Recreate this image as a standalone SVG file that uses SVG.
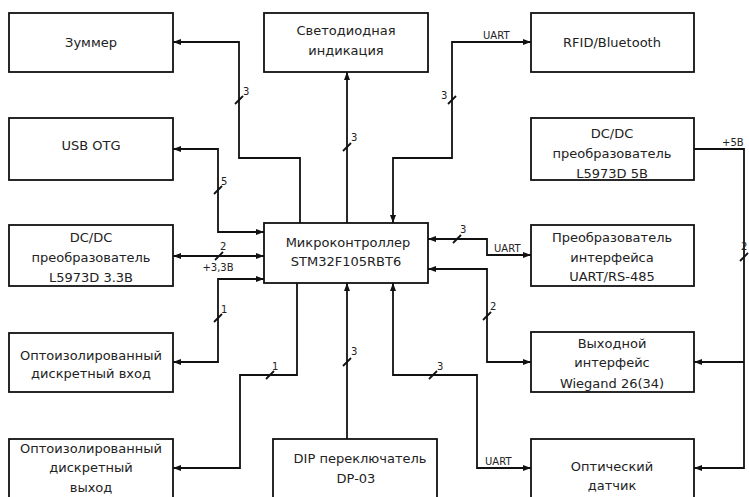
<svg xmlns="http://www.w3.org/2000/svg" width="749" height="497" viewBox="0 0 749 497">
<style>
.box{fill:#fff;stroke:#111;stroke-width:1.8}
.t{font-family:"DejaVu Sans","Liberation Sans",sans-serif;font-size:13px;fill:#222;text-anchor:middle}
.s{font-family:"DejaVu Sans","Liberation Sans",sans-serif;font-size:10px;fill:#222}
.c{fill:none;stroke:#111;stroke-width:1.8}
.tk{stroke:#111;stroke-width:1.8}
</style>
<defs>
<marker id="a" markerUnits="userSpaceOnUse" markerWidth="9" markerHeight="7" refX="8" refY="3" orient="auto-start-reverse" viewBox="0 0 9 6">
<path d="M0,0 L8,3 L0,6 z" fill="#111"/>
</marker>
</defs>
<g id="n-zummer"><rect class="box" x="9" y="13" width="164" height="59"/><text class="t" x="91" y="47">Зуммер</text></g>
<g id="n-usb"><rect class="box" x="9" y="118" width="164" height="62"/><text class="t" x="91" y="150">USB OTG</text></g>
<g id="n-led"><rect class="box" x="264" y="13" width="164" height="59"/><text class="t" x="346" y="35">Светодиодная</text><text class="t" x="346" y="55">индикация</text></g>
<g id="n-rfid"><rect class="box" x="531" y="13" width="163" height="59"/><text class="t" x="612" y="47">RFID/Bluetooth</text></g>
<g id="n-dc5"><rect class="box" x="531" y="118" width="163" height="62"/><text class="t" x="612" y="138">DC/DC</text><text class="t" x="612" y="158">преобразователь</text><text class="t" x="612" y="178">L5973D 5В</text></g>
<g id="n-mcu"><rect class="box" x="264" y="223" width="164" height="60"/><text class="t" x="348" y="247">Микроконтроллер</text><text class="t" x="346" y="266">STM32F105RBT6</text></g>
<g id="n-dc33"><rect class="box" x="9" y="225" width="164" height="61"/><text class="t" x="91" y="242">DC/DC</text><text class="t" x="91" y="262">преобразователь</text><text class="t" x="91" y="282">L5973D 3.3В</text></g>
<g id="n-uart485"><rect class="box" x="531" y="225" width="163" height="61"/><text class="t" x="612" y="242">Преобразователь</text><text class="t" x="612" y="262">интерфейса</text><text class="t" x="612" y="281">UART/RS-485</text></g>
<g id="n-din"><rect class="box" x="9" y="333" width="164" height="59"/><text class="t" x="91" y="360">Оптоизолированный</text><text class="t" x="91" y="378">дискретный вход</text></g>
<g id="n-wiegand"><rect class="box" x="531" y="332" width="163" height="60"/><text class="t" x="612" y="348">Выходной</text><text class="t" x="612" y="367">интерфейс</text><text class="t" x="612" y="388">Wiegand 26(34)</text></g>
<g id="n-dout"><rect class="box" x="9" y="439" width="164" height="70"/><text class="t" x="91" y="453">Оптоизолированный</text><text class="t" x="91" y="472">дискретный</text><text class="t" x="91" y="492">выход</text></g>
<g id="n-dip"><rect class="box" x="273" y="439" width="164" height="70"/><text class="t" x="360" y="463">DIP переключатель</text><text class="t" x="356" y="483">DP-03</text></g>
<g id="n-optic"><rect class="box" x="531" y="439" width="163" height="70"/><text class="t" x="612" y="471">Оптический</text><text class="t" x="612" y="490">датчик</text></g>
<g id="connectors">
<path class="c" d="M300,223 V158 H239 V42 H173" marker-end="url(#a)"/>
<path class="c" d="M264,232 H218 V149 H173" marker-start="url(#a)" marker-end="url(#a)"/>
<path class="c" d="M347,223 V72" marker-end="url(#a)"/>
<path class="c" d="M531,42 H452 V158 H393 V223" marker-start="url(#a)" marker-end="url(#a)"/>
<path class="c" d="M173,256 H264" marker-start="url(#a)" marker-end="url(#a)"/>
<path class="c" d="M264,279 H218 V362 H173" marker-start="url(#a)" marker-end="url(#a)"/>
<path class="c" d="M297,283 V375 H240 V468 H173" marker-end="url(#a)"/>
<path class="c" d="M347,439 V283" marker-end="url(#a)"/>
<path class="c" d="M393,283 V375 H477 V468 H531" marker-start="url(#a)" marker-end="url(#a)"/>
<path class="c" d="M428,269 H487 V362 H531" marker-start="url(#a)" marker-end="url(#a)"/>
<path class="c" d="M428,239 H487 V255 H531" marker-start="url(#a)" marker-end="url(#a)"/>
<path class="c" d="M694,149 H744 V468 H694" marker-end="url(#a)"/>
<path class="c" d="M744,362 H694" marker-end="url(#a)"/>
<line class="tk" x1="235" y1="104" x2="243" y2="96"/><text class="s" x="243" y="95">3</text>
<line class="tk" x1="214" y1="194" x2="222" y2="186"/><text class="s" x="221" y="185">5</text>
<line class="tk" x1="343" y1="151" x2="351" y2="143"/><text class="s" x="351" y="141">3</text>
<line class="tk" x1="448" y1="104" x2="456" y2="96"/><text class="s" x="441" y="99">3</text>
<line class="tk" x1="215" y1="260" x2="223" y2="252"/><text class="s" x="220" y="250">2</text>
<text class="s" x="218" y="271" text-anchor="middle" font-size="9">+3,3В</text>
<line class="tk" x1="214" y1="322" x2="222" y2="314"/><text class="s" x="221" y="313">1</text>
<line class="tk" x1="266" y1="379" x2="274" y2="371"/><text class="s" x="272" y="370">1</text>
<line class="tk" x1="343" y1="366" x2="351" y2="358"/><text class="s" x="351" y="355">3</text>
<line class="tk" x1="429" y1="379" x2="437" y2="371"/><text class="s" x="437" y="370">3</text>
<line class="tk" x1="483" y1="320" x2="491" y2="312"/><text class="s" x="490" y="310">2</text>
<line class="tk" x1="453" y1="243" x2="461" y2="235"/><text class="s" x="460" y="233">3</text>
<line class="tk" x1="740" y1="261" x2="748" y2="253"/><text class="s" x="741" y="250">2</text>
<text class="s" x="483" y="39" font-size="9">UART</text>
<text class="s" x="494" y="252" font-size="9">UART</text>
<text class="s" x="485" y="465" font-size="9">UART</text>
<text class="s" x="722" y="146" font-size="9">+5В</text>
</g>
</svg>
